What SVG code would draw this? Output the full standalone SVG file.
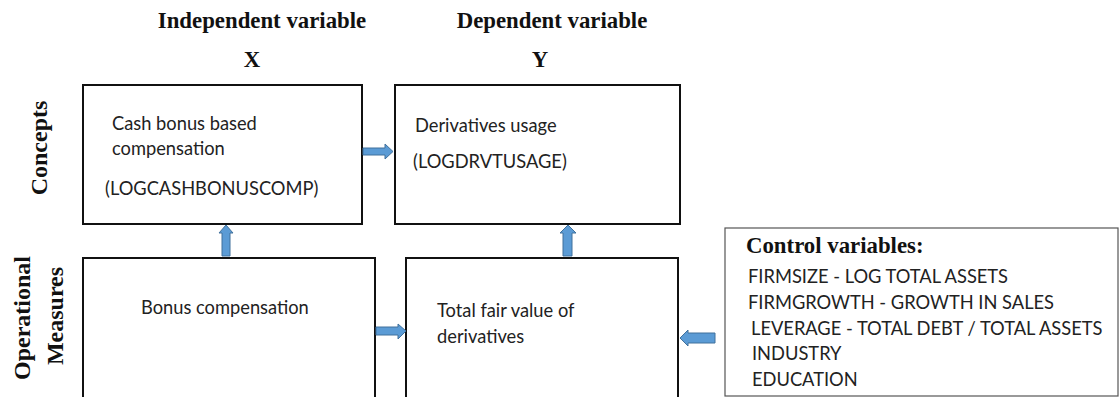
<svg xmlns="http://www.w3.org/2000/svg" width="1119" height="397" viewBox="0 0 1119 397">
<style>
.box{fill:#fff;stroke:#111;stroke-width:2}
.cbox{fill:#fff;stroke:#555;stroke-width:1.2}
.hd{font-family:"Liberation Serif",serif;font-weight:bold;font-size:22.8px;fill:#111}
.vl{font-family:"Liberation Serif",serif;font-weight:bold;font-size:24px;fill:#111}
.t{font-family:Lato,"Liberation Sans",sans-serif;font-size:18.3px;fill:#222}
.arr{fill:#5b9bd5;stroke:#41719c;stroke-width:1}
</style>
<rect width="1119" height="397" fill="#fff"/>
<text class="hd" x="262" y="28" text-anchor="middle">Independent variable</text>
<text class="hd" x="552" y="28" text-anchor="middle">Dependent variable</text>
<text class="hd" x="252" y="67" text-anchor="middle">X</text>
<text class="hd" x="540" y="67" text-anchor="middle">Y</text>
<text class="vl" transform="translate(47,148) rotate(-90)" text-anchor="middle">Concepts</text>
<text class="vl" transform="translate(30,318) rotate(-90)" text-anchor="middle">Operational</text>
<text class="vl" transform="translate(63,316) rotate(-90)" text-anchor="middle">Measures</text>
<g id="node-cash">
<rect class="box" x="83" y="85" width="279" height="139"/>
<text class="t" x="112" y="130">Cash bonus based</text>
<text class="t" x="112" y="155">compensation</text>
<text class="t" x="105" y="195">(LOGCASHBONUSCOMP)</text>
</g>
<g id="node-deriv">
<rect class="box" x="395" y="85" width="285" height="139"/>
<text class="t" x="415" y="132">Derivatives usage</text>
<text class="t" x="413" y="168">(LOGDRVTUSAGE)</text>
</g>
<g id="node-bonus">
<rect class="box" x="83" y="258" width="292" height="140"/>
<text class="t" x="141" y="314">Bonus compensation</text>
</g>
<g id="node-fair">
<rect class="box" x="406" y="258" width="272" height="140"/>
<text class="t" x="437" y="317">Total fair value of</text>
<text class="t" x="437" y="343">derivatives</text>
</g>
<g id="node-control">
<rect class="cbox" x="725" y="228" width="393" height="168"/>
<text class="hd" x="746" y="253">Control variables:</text>
<text class="t" x="748" y="283">FIRMSIZE - LOG TOTAL ASSETS</text>
<text class="t" x="748" y="309">FIRMGROWTH - GROWTH IN SALES</text>
<text class="t" x="751" y="335">LEVERAGE - TOTAL DEBT / TOTAL ASSETS</text>
<text class="t" x="752" y="360">INDUSTRY</text>
<text class="t" x="752" y="386">EDUCATION</text>
</g>
<g id="connectors">
<path class="arr" d="M363,148 H385 V144 L393,151.5 L385,159 V155 H363 Z"/>
<path class="arr" d="M222,256 V233 H219 L226,225 L233,233 H230 V256 Z"/>
<path class="arr" d="M563,256 V233 H560 L568,225 L576,233 H572 V256 Z"/>
<path class="arr" d="M376,327 H398 V324 L406,331 L398,339 V335 H376 Z"/>
<path class="arr" d="M715,333 H688 V330 L680,338 L688,346 V343 H715 Z"/>
</g>
</svg>
